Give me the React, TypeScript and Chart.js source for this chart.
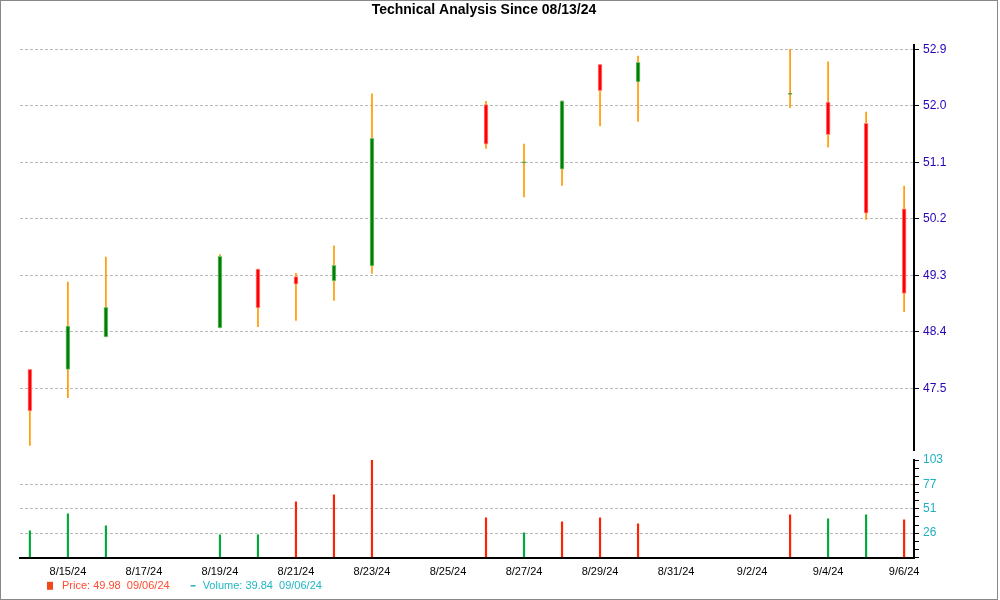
import React, { useEffect, useRef } from 'react';
import { Chart, registerables } from 'chart.js';

Chart.register(...registerables);

const FONT = "'Liberation Sans', Arial, sans-serif";

const titleText = 'Technical Analysis Since 08/13/24';

const dates = ['8/14/24', '8/15/24', '8/16/24', '8/19/24', '8/20/24', '8/21/24', '8/22/24', '8/23/24', '8/26/24', '8/27/24', '8/28/24', '8/29/24', '8/30/24', '9/3/24', '9/4/24', '9/5/24', '9/6/24'];
const openPrices = [47.80, 47.80, 48.32, 48.46, 49.40, 49.28, 49.21, 49.45, 52.02, 51.09, 50.99, 52.66, 52.38, 52.18, 52.06, 51.72, 50.36];
const highPrices = [47.80, 49.19, 49.59, 49.63, 49.40, 49.33, 49.77, 52.19, 52.07, 51.39, 52.08, 52.66, 52.79, 52.90, 52.70, 51.90, 50.72];
const lowPrices = [46.59, 47.35, 48.32, 48.46, 48.48, 48.58, 48.90, 49.33, 51.32, 50.55, 50.73, 51.68, 51.75, 51.97, 51.34, 50.19, 48.72];
const closePrices = [47.14, 48.49, 48.79, 49.60, 48.78, 49.16, 49.46, 51.48, 51.39, 51.11, 52.08, 52.24, 52.69, 52.20, 51.54, 50.29, 49.01];
const volumes = [28.1, 46.1, 33.4, 23.9, 23.9, 58.7, 66.1, 103, 41.9, 26.0, 37.6, 41.9, 35.5, 45.0, 40.8, 45.0, 39.84];
const volumeUp = [true, true, true, true, true, false, false, false, false, true, false, false, false, false, true, true, false];

const priceTicks = [47.5, 48.4, 49.3, 50.2, 51.1, 52.0, 52.9];
const priceMin = 46.517;
const priceMax = 52.968;
const volumeMax = 103;
const volumeTickLabels = ['26', '51', '77', '103'];
const xTickLabels = ['8/15/24', '8/17/24', '8/19/24', '8/21/24', '8/23/24', '8/25/24', '8/27/24', '8/29/24', '8/31/24', '9/2/24', '9/4/24', '9/6/24'];

const legendPrice = '49.98';
const legendVolume = '39.84';
const legendDate = '09/06/24';

const toDay = (s: string) => {
  const [m, d, y] = s.split('/').map(Number);
  return Date.UTC(2000 + y, m - 1, d) / 86400000;
};
const day0 = toDay(dates[0]);
const xs = dates.map((s) => toDay(s) - day0);
const xTickPos = xTickLabels.map((s) => toDay(s) - day0);
const xMin = xs[0] - 0.26;
const xMax = xs[xs.length - 1] + 0.26;

const legendPlugin = {
  id: 'customLegend',
  afterDraw(chart: any) {
    const ctx = chart.ctx as CanvasRenderingContext2D;
    ctx.save();
    const y = 145.8;
    ctx.font = `11px ${FONT}`;
    ctx.textBaseline = 'middle';
    ctx.textAlign = 'left';
    ctx.fillStyle = '#f04a18';
    ctx.fillRect(47, y - 4, 6, 8);
    ctx.fillStyle = '#ff4c30';
    const t1 = `Price: ${legendPrice}  ${legendDate}`;
    ctx.fillText(t1, 62, y);
    const w1 = ctx.measureText(t1).width;
    const x2 = 62 + w1 + 21;
    ctx.fillStyle = '#20b5c5';
    ctx.fillRect(x2, y - 0.75, 5, 1.5);
    ctx.fillText(`Volume: ${legendVolume}  ${legendDate}`, x2 + 12, y);
    ctx.restore();
  },
};

export default function App() {
  const priceRef = useRef<HTMLCanvasElement>(null);
  const volRef = useRef<HTMLCanvasElement>(null);

  useEffect(() => {
    const up = (i: number) => closePrices[i] >= openPrices[i];
    const pc = new Chart(priceRef.current!, {
      type: 'bar',
      data: {
        datasets: [
          {
            label: 'wick',
            data: xs.map((x, i) => ({ x, y: [lowPrices[i], highPrices[i]] })) as any,
            backgroundColor: '#ff9900',
            borderWidth: 0,
            barThickness: 1,
            grouped: false,
            order: 2,
          },
          {
            label: 'body',
            data: xs.map((x, i) => ({ x, y: [openPrices[i], closePrices[i]] })) as any,
            backgroundColor: (c: any) => (up(c.dataIndex) ? '#008000' : '#ff0000'),
            borderColor: (c: any) => (up(c.dataIndex) ? '#7cc47c' : '#ff8a8a'),
            borderWidth: 1,
            borderSkipped: false,
            barThickness: 4,
            grouped: false,
            order: 1,
          },
        ],
      },
      options: {
        responsive: false,
        animation: false,
        layout: { padding: { left: 20, right: 52, top: 0, bottom: 20 } },
        plugins: {
          legend: { display: false },
          tooltip: { enabled: false },
          title: {
            display: true,
            text: titleText,
            color: '#000',
            font: { family: FONT, size: 14, weight: 'bold' },
            padding: { top: 2, bottom: 26.2 },
          },
        },
        scales: {
          x: { type: 'linear', display: false, min: xMin, max: xMax, offset: false },
          y: {
            position: 'right',
            min: priceMin,
            max: priceMax,
            afterBuildTicks: (s: any) => {
              s.ticks = priceTicks.map((v) => ({ value: v }));
            },
            afterFit: (s: any) => {
              s.width = 34;
            },
            ticks: {
              autoSkip: false,
              color: '#2a00b5',
              font: { family: FONT, size: 12 },
              padding: 4,
              callback: (v: any) => Number(v).toFixed(1),
            },
            grid: {
              color: '#b8b8b8',
              lineWidth: 1,
              tickColor: '#000',
              tickLength: 5,
              tickWidth: 1,
              tickBorderDash: [],
            },
            border: { display: true, color: '#000', width: 2, dash: [3, 2] },
          },
        },
      } as any,
    });

    const vc = new Chart(volRef.current!, {
      type: 'bar',
      data: {
        datasets: [
          {
            label: 'volume',
            data: xs.map((x, i) => ({ x, y: volumes[i] })) as any,
            backgroundColor: volumeUp.map((u) => (u ? '#00aa3a' : '#ff2200')),
            borderWidth: 0,
            barThickness: 1.5,
          },
        ],
      },
      options: {
        responsive: false,
        animation: false,
        layout: { padding: { left: 20, right: 52, top: 20, bottom: 22.5 } },
        plugins: { legend: { display: false }, tooltip: { enabled: false } },
        scales: {
          x: {
            type: 'linear',
            min: xMin,
            max: xMax,
            offset: false,
            afterBuildTicks: (s: any) => {
              s.ticks = xTickPos.map((v) => ({ value: v }));
            },
            afterFit: (s: any) => {
              s.height = 20;
            },
            ticks: {
              autoSkip: false,
              maxRotation: 0,
              color: '#000',
              font: { family: FONT, size: 11 },
              padding: 8,
              callback: (v: any) => {
                const i = xTickPos.indexOf(Number(v));
                return i >= 0 ? xTickLabels[i] : '';
              },
            },
            grid: { display: false, drawTicks: false },
            border: { display: true, color: '#000', width: 2 },
          },
          y: {
            position: 'right',
            min: 0,
            max: volumeMax,
            afterBuildTicks: (s: any) => {
              const t = [];
              for (let k = 0; k <= 12; k++) t.push({ value: (volumeMax * k) / 12 });
              s.ticks = t;
            },
            afterFit: (s: any) => {
              s.width = 34;
            },
            ticks: {
              autoSkip: false,
              color: '#20b0c0',
              font: { family: FONT, size: 12 },
              padding: 4,
              callback: (_v: any, idx: number) =>
                idx > 0 && idx % 3 === 0 ? volumeTickLabels[idx / 3 - 1] : '',
            },
            grid: {
              color: (c: any) => (c.index > 0 && c.index < 12 && c.index % 3 === 0 ? '#b8b8b8' : 'rgba(0,0,0,0)'),
              lineWidth: 1,
              tickColor: '#000',
              tickLength: 5,
              tickWidth: 1,
              tickBorderDash: [],
            },
            border: { display: true, color: '#000', width: 2, dash: [3, 2] },
          },
        },
      } as any,
      plugins: [legendPlugin],
    });

    return () => {
      pc.destroy();
      vc.destroy();
    };
  }, []);

  return (
    <div style={{ position: 'fixed', left: 0, top: 0, width: 1000, height: 600, background: '#fff' }}>
      <canvas ref={priceRef} width={1000} height={470} style={{ position: 'absolute', left: 0, top: 0 }} />
      <canvas ref={volRef} width={1000} height={160} style={{ position: 'absolute', left: 0, top: 440 }} />
      <div
        style={{
          position: 'absolute',
          left: 0,
          top: 0,
          width: 998,
          height: 600,
          border: '1px solid #888',
          boxSizing: 'border-box',
          pointerEvents: 'none',
        }}
      />
    </div>
  );
}
